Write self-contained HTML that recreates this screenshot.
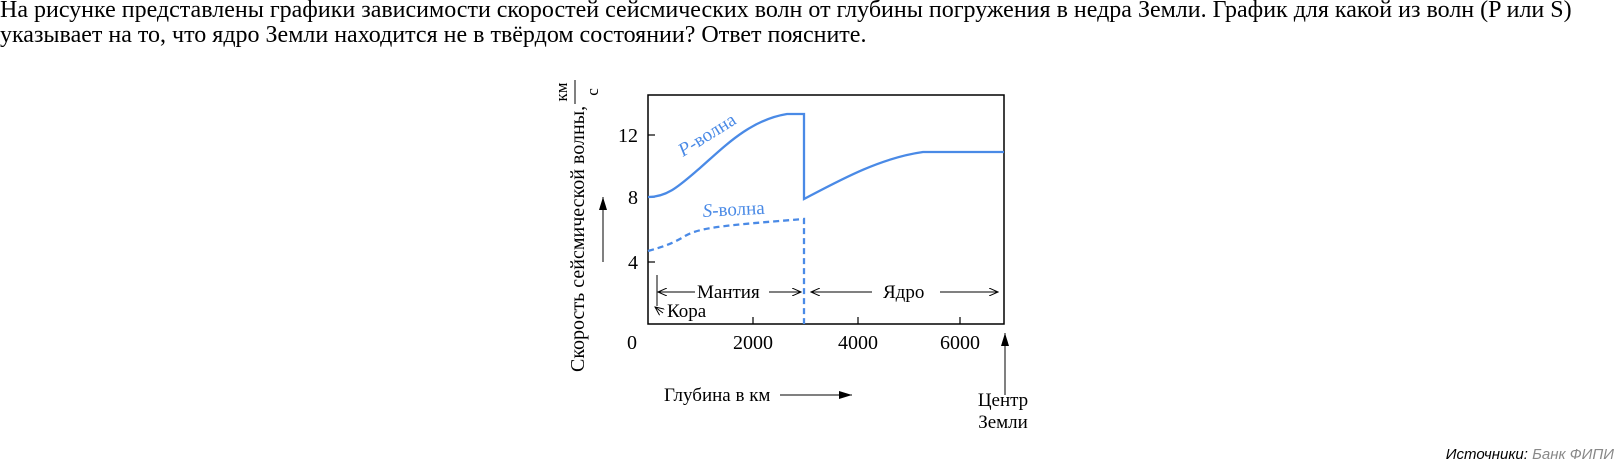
<!DOCTYPE html>
<html><head><meta charset="utf-8"><style>
body{margin:0;width:1616px;height:476px;background:#fff;position:relative;overflow:hidden;font-family:"Liberation Serif","Noto Serif CJK SC",serif;}
.q{position:absolute;left:0;top:-2px;font-size:24px;line-height:25px;white-space:nowrap;color:#000;}
.src{position:absolute;right:2px;top:446px;font-family:"Liberation Sans","DejaVu Sans",sans-serif;font-style:italic;font-size:15px;color:#000;}
.src span{color:#888;}
svg{position:absolute;left:0;top:0;}
</style></head><body>
<div class="q">На рисунке представлены графики зависимости скоростей сейсмических волн от глубины погружения в недра Земли. График для какой из волн (P или S)<br>указывает на то, что ядро Земли находится не в твёрдом состоянии? Ответ поясните.</div>
<svg width="1616" height="476" xmlns="http://www.w3.org/2000/svg" font-family="Liberation Serif, serif" font-size="19">
<defs><marker id="a" markerWidth="10" markerHeight="8" refX="9" refY="4" orient="auto" markerUnits="userSpaceOnUse"><path d="M0,0 L9,4 L0,8" fill="none" stroke="#000" stroke-width="1"/></marker>
<marker id="f" markerWidth="14" markerHeight="8" refX="13" refY="4" orient="auto" markerUnits="userSpaceOnUse"><path d="M0,0 L13,4 L0,8 z" fill="#000"/></marker></defs>
<rect x="648" y="95" width="356" height="229" fill="none" stroke="#000" stroke-width="1.5"/>
<g stroke="#000" stroke-width="1.2">
<line x1="648" y1="135" x2="655" y2="135"/><line x1="648" y1="197" x2="655" y2="197"/><line x1="648" y1="262" x2="655" y2="262"/>
<line x1="753" y1="324" x2="753" y2="317"/><line x1="858" y1="324" x2="858" y2="317"/><line x1="960" y1="324" x2="960" y2="317"/>
</g>
<g text-anchor="end" font-size="20"><text x="638" y="142">12</text><text x="638" y="204">8</text><text x="638" y="269">4</text></g>
<g text-anchor="middle" font-size="20"><text x="632" y="349">0</text><text x="753" y="349">2000</text><text x="858" y="349">4000</text><text x="960" y="349">6000</text></g>
<path d="M648,197 C668,197 680,185 700,168 C725,146 750,120 787,114 L804,114 L804,199 C840,180 880,158 923,152 L1004,152" fill="none" stroke="#4a8ae6" stroke-width="2.3"/>
<path d="M648,251 C662,247 672,244 685,236 C700,227 730,225 804,219 L804,324" fill="none" stroke="#4a8ae6" stroke-width="2.3" stroke-dasharray="6,4"/>
<text x="0" y="0" fill="#4a8ae6" transform="translate(683,157) rotate(-32)"><tspan font-style="italic">P</tspan>-волна</text>
<text x="0" y="0" fill="#4a8ae6" transform="translate(703,217) rotate(-3)"><tspan font-style="italic">S</tspan>-волна</text>
<g stroke="#000" stroke-width="1" fill="none">
<line x1="657" y1="275" x2="657" y2="306"/>
<line x1="695" y1="292" x2="658" y2="292" marker-end="url(#a)"/>
<line x1="769" y1="292" x2="801" y2="292" marker-end="url(#a)"/>
<line x1="872" y1="292" x2="811" y2="292" marker-end="url(#a)"/>
<line x1="940" y1="292" x2="998" y2="292" marker-end="url(#a)"/>
<line x1="663" y1="313" x2="655" y2="307" marker-end="url(#a)"/>
<line x1="780" y1="395" x2="852" y2="395" marker-end="url(#f)"/>
<line x1="1005" y1="395" x2="1005" y2="333" marker-end="url(#f)"/>
<line x1="603" y1="262" x2="603" y2="197" marker-end="url(#f)"/>
</g>
<text x="697" y="298">Мантия</text>
<text x="883" y="298">Ядро</text>
<text x="667" y="317">Кора</text>
<text x="664" y="401">Глубина в км</text>
<text x="1003" y="406" text-anchor="middle">Центр</text>
<text x="1003" y="428" text-anchor="middle">Земли</text>
<text transform="translate(584,372) rotate(-90)" font-size="20">Скорость сейсмической волны,</text>
<g transform="rotate(-90)">
<text x="-92" y="567" text-anchor="middle" font-size="17">км</text>
<line x1="-104" y1="575" x2="-80" y2="575" stroke="#000" stroke-width="1"/>
<text x="-92" y="598" text-anchor="middle" font-size="17">с</text>
</g>
</svg>
<div class="src">Источники: <span>Банк ФИПИ</span></div>
</body></html>
